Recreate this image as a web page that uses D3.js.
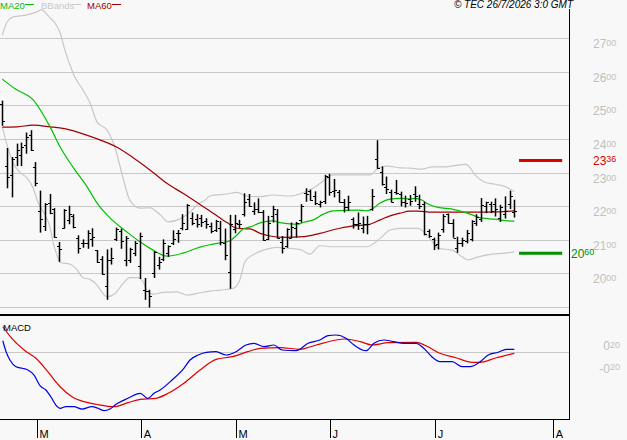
<!DOCTYPE html>
<html>
<head>
<meta charset="utf-8">
<script src="https://cdn.jsdelivr.net/npm/d3@7/dist/d3.min.js"></script>
<style>
  html, body { margin: 0; padding: 0; background: #f8f8f8; }
  svg { display: block; font-family: "Liberation Sans", Arial, sans-serif; }
</style>
</head>
<body>
<svg id="chart" width="627" height="440"></svg>
<script>
// daily bars (bar index 0..108)
const opens = [25.05,23.20,22.93,23.46,23.51,23.81,24.11,23.16,21.86,21.41,22.09,21.91,20.81,21.36,21.59,21.71,21.06,20.91,20.89,21.01,20.69,20.43,
  19.61,20.41,21.01,21.26,20.39,20.41,20.61,20.23,19.51,19.46,20.01,20.26,20.43,20.61,20.91,21.21,21.36,21.33,21.66,21.61,21.66,
  21.56,21.41,21.28,21.34,20.91,20.03,21.31,21.46,21.76,22.21,21.84,21.91,21.81,21.01,21.71,21.76,20.93,20.81,21.06,21.36,21.59,
  22.39,22.44,22.31,22.06,22.16,22.86,22.46,22.41,22.11,21.96,21.61,21.46,21.36,21.46,21.91,23.39,23.01,22.56,22.41,22.41,22.36,22.13,
  22.21,22.36,22.06,22.06,21.26,21.01,20.86,21.31,21.76,21.51,20.76,20.91,20.96,21.01,21.51,21.61,22.01,22.06,22.06,21.66,21.76,22.06,21.81];
const highs = [25.14,23.73,23.46,23.86,23.89,24.19,24.26,23.31,22.46,22.09,22.36,21.94,20.93,21.91,22.01,21.76,21.13,21.01,21.28,21.34,20.69,20.51,
  20.71,20.76,21.36,21.33,21.11,20.76,20.96,21.21,19.86,19.51,20.66,20.49,21.01,20.83,21.28,21.29,21.76,22.06,21.81,21.76,21.74,
  21.64,21.51,21.59,21.56,21.33,21.74,21.74,21.59,22.38,22.36,22.11,22.23,21.88,21.71,22.01,21.91,21.11,21.34,21.51,21.53,22.06,
  22.53,22.49,22.44,22.16,22.93,22.96,22.81,22.48,22.21,22.31,21.66,21.81,21.69,21.71,22.51,23.96,23.18,22.88,22.49,22.78,22.43,22.31,
  22.33,22.59,22.34,22.13,21.31,21.06,21.21,21.76,21.78,21.61,21.09,21.06,21.29,21.58,21.76,22.24,22.13,22.13,22.23,22.04,22.29,22.46,22.19];
const lows = [24.39,22.53,22.26,23.19,23.19,23.56,23.64,22.59,21.21,21.26,21.76,21.06,20.34,21.33,21.46,21.34,20.59,20.76,20.73,20.79,20.31,19.96,
  19.21,20.26,20.96,20.73,20.21,20.31,20.51,19.83,19.21,18.98,19.86,20.11,20.36,20.49,20.84,20.91,21.28,21.29,21.43,21.36,21.38,
  21.33,21.19,21.23,20.83,20.39,19.54,21.19,21.35,21.69,21.98,21.74,21.79,20.97,20.99,21.51,21.04,20.59,20.76,21.04,21.06,21.51,
  22.13,22.16,22.03,21.96,22.06,22.31,22.26,22.11,21.81,21.86,21.33,21.29,21.19,21.16,21.86,23.11,22.61,22.36,22.11,22.34,21.99,21.96,
  22.01,22.13,21.91,21.13,21.06,20.69,20.71,21.21,21.48,21.06,20.61,20.79,20.89,20.95,21.41,21.53,21.79,21.79,21.69,21.53,21.63,21.91,21.66];
const closes = [24.54,22.86,23.41,23.66,23.76,24.06,23.66,22.69,21.61,22.05,21.78,21.08,20.71,21.89,21.76,21.39,20.76,20.89,21.21,21.08,20.33,19.99,
  20.41,20.46,21.31,20.96,21.06,20.71,20.91,21.11,19.48,19.31,20.63,20.33,20.91,20.81,21.01,21.19,21.51,22.03,21.51,21.48,21.53,
  21.46,21.26,21.56,20.94,20.53,21.46,21.49,21.48,22.13,22.01,21.91,21.81,20.99,21.51,21.91,21.06,20.76,21.31,21.39,21.49,22.01,
  22.36,22.19,22.09,22.11,22.89,22.41,22.49,22.13,21.96,22.11,21.48,21.51,21.46,21.48,22.31,23.13,22.66,22.51,22.13,22.39,22.11,22.09,
  22.16,22.31,22.01,21.16,21.11,20.83,21.13,21.71,21.51,21.06,20.91,20.99,21.21,21.56,21.69,22.03,22.11,21.86,21.91,21.96,21.86,22.29,21.86];

// indicator lines: [bar position, value]
const ma20 = [[0,25.78],[2.7,25.49],[6.5,25.16],[10.1,24.35],[12.2,23.76],[14.9,23.16],[17.9,22.57],[20,22.09],[22.7,21.65],[26.3,21.23],
  [29.1,20.93],[31.8,20.69],[34.7,20.51],[38.1,20.6],[41.7,20.78],[44.5,20.87],[48,20.97],[49.5,21.14],[50.8,21.32],[52.3,21.38],[54.4,21.5],
  [57.1,21.56],[58.6,21.51],[60.7,21.47],[62.2,21.46],[63.6,21.52],[65.6,21.59],[67.7,21.76],[69.8,21.86],[74.8,21.88],[76.9,21.86],[78,21.91],
  [79.7,22.09],[81.8,22.21],[83.9,22.23],[86,22.21],[87.1,22.23],[88.5,22.18],[89.8,22.06],[91.9,21.96],[94.9,21.91],[97.2,21.83],[99.1,21.74],
  [101.2,21.64],[103.9,21.61],[106.1,21.57],[108,21.55]];
const ma60 = [[0,24.35],[3.1,24.36],[6.5,24.41],[10.1,24.36],[13.6,24.29],[17,24.15],[20.6,23.97],[24.2,23.75],[27.6,23.44],[31.2,23.07],
  [34.7,22.68],[38.1,22.38],[41.7,22.05],[44.5,21.79],[47.4,21.51],[49.5,21.34],[52.3,21.32],[54.4,21.19],[56.5,21.11],[59.2,21.07],[63.6,21.09],
  [67,21.19],[71.2,21.34],[74,21.41],[76.9,21.44],[79.7,21.59],[81.8,21.71],[83.9,21.79],[86,21.85],[87.7,21.85],[90.7,21.82],[99.1,21.82],
  [104.6,21.83],[108,21.86]];
const bbUpper = [[0,27.09],[1,27.48],[2.3,27.63],[5.2,27.69],[7.3,27.78],[8.2,27.84],[10.1,27.6],[11.1,27.45],[12.2,27.15],[13.2,26.65],
  [13.9,26.35],[15.3,25.84],[17,25.46],[18.5,25.07],[20,24.5],[22.1,24.26],[23.8,23.73],[25.3,22.93],[26.9,22.18],[29.1,21.94],[31.2,21.95],
  [33.3,21.74],[35,21.53],[37.5,21.62],[39.6,21.83],[41.7,22.1],[42.6,22.16],[43.8,22.3],[47.4,22.36],[49.5,22.41],[51.6,22.3],[54.4,22.28],
  [57.1,22.33],[60.7,22.3],[62.8,22.36],[63.6,22.4],[64.3,22.46],[65.6,22.53],[67.7,22.75],[69.8,22.93],[73.4,22.93],[77.6,22.93],[79.3,23.13],
  [81.2,23.19],[83.9,23.14],[86,23.13],[88.5,23.1],[90.7,23.17],[93.4,23.17],[96.1,23.22],[97.6,23.24],[98.3,23.2],[99.7,22.93],[101.8,22.71],
  [103.9,22.65],[106.1,22.58],[108,22.43]];
const bbLower = [[0,24.36],[1,23.82],[2.3,23.28],[3.7,23.01],[5.2,22.84],[6.5,22.54],[7.5,22.12],[9,21.74],[10.1,21.35],[10.7,20.93],
  [11.5,20.55],[12.2,20.32],[14.3,20.27],[15.8,20.1],[17,19.87],[18.5,19.82],[20,19.65],[21.2,19.4],[22.1,19.3],[23.8,19.4],[25.5,19.7],
  [26.9,19.87],[28.6,19.87],[29.7,19.75],[30.7,19.45],[31.8,19.38],[33.9,19.43],[36.9,19.45],[39,19.35],[41.1,19.4],[43.8,19.47],[45.9,19.5],
  [48.7,19.55],[50.1,19.8],[51.2,20.35],[52.9,20.55],[55.8,20.72],[57.9,20.77],[60.1,20.75],[63,20.7],[64.9,20.57],[67,20.82],[69.8,20.79],
  [73.4,20.79],[76.9,20.79],[79.7,21.04],[81.8,21.29],[83.9,21.34],[87.7,21.34],[89.2,21.19],[90.7,20.94],[91.9,20.74],[94.9,20.69],
  [97,20.49],[98.3,20.4],[100.4,20.49],[103.3,20.57],[106.1,20.6],[108,20.64]];
const macd = [[0.1,0.205],[0.8,0.011],[1.6,-0.136],[2.9,-0.255],[4.2,-0.283],[5.4,-0.313],[6.7,-0.402],[8,-0.596],[9.2,-0.667],[10.3,-0.796],
  [11.3,-0.933],[12.2,-0.991],[13.4,-0.963],[15.1,-0.963],[16.8,-1.004],[18.9,-0.963],[20.2,-0.991],[21.5,-1.034],[22.7,-1.004],[24,-0.92],
  [26.5,-0.814],[29.1,-0.726],[30.7,-0.814],[32,-0.726],[33.3,-0.667],[35.8,-0.49],[38.3,-0.283],[39.6,-0.136],[41.3,-0.048],[43,0],
  [45.1,0.011],[47.2,-0.048],[49.3,0.011],[51.4,0.129],[53.1,0.159],[55.2,0.099],[57.3,0.129],[59,0.041],[62,0.028],[64.5,0.159],[67,0.218],
  [68.7,0.294],[70.4,0.306],[72.5,0.248],[74.2,0.129],[76.7,0.028],[78.4,0.159],[80.5,0.218],[82.6,0.188],[84.7,0.159],[87.3,0.159],
  [88.9,0.071],[90.6,-0.078],[92.3,-0.166],[94.9,-0.166],[97,-0.255],[98.7,-0.255],[100.8,-0.166],[102.5,-0.048],[104.6,0],[106.3,0.053],[108,0.053]];
const signal = [[0.1,0.453],[2,0.248],[4.6,0.041],[7.1,-0.106],[9.6,-0.343],[12.2,-0.609],[14.7,-0.786],[17.2,-0.874],[19.8,-0.92],[23.6,-0.963],
  [26.5,-0.892],[29.1,-0.832],[32.4,-0.814],[35,-0.726],[38.3,-0.549],[41.7,-0.313],[45.1,-0.124],[48.5,-0.078],[51.8,0.011],[54.4,0.071],
  [58.6,0.081],[62.8,0.053],[66.2,0.129],[70.4,0.218],[72.1,0.235],[75.5,0.188],[78,0.129],[81.4,0.17],[87.3,0.177],[89.8,0.099],[92.3,-0.018],
  [95.7,-0.096],[99.1,-0.177],[100.8,-0.177],[104.2,-0.096],[108,-0.018]];

const priceTicks = [19, 20, 21, 22, 23, 24, 25, 26, 27];
const macdTicks = [0.2, -0.2];
const monthLabels = ["M", "A", "M", "J", "J", "A"];
const monthPos = [7.3, 29.3, 49.3, 69.1, 91.3, 116.2];
const levelValues = [23.36, 20.60];
const levelSpan = [109, 118.1];

const svg = d3.select("#chart");
const W = 569;
const x = d3.scaleLinear().domain([0, 108]).range([2.3, 514.3]);
const y = d3.scaleLinear().domain([19, 27]).range([306.9, 38.1]);
const ym = d3.scaleLinear().domain([-0.2, 0.2]).range([363.6, 341.0]);

function splitNum(v) {
  return v.toFixed(2).split(".");
}

// grid
svg.append("g").selectAll("line").data(priceTicks).join("line")
  .attr("x1", 0).attr("x2", W)
  .attr("y1", (d) => Math.round(y(d)) + 0.5).attr("y2", (d) => Math.round(y(d)) + 0.5)
  .attr("stroke", "#c8c8c8");
svg.append("line").attr("x1", 0).attr("x2", W)
  .attr("y1", Math.round(ym(0)) + 0.5).attr("y2", Math.round(ym(0)) + 0.5).attr("stroke", "#c8c8c8");

// price labels with small decimals
const pl = svg.append("g").attr("font-size", 12).attr("fill", "#c0c0c0");
priceTicks.filter((d) => d >= 20).forEach((d) => {
  const [a, b] = splitNum(d);
  const t = pl.append("text").attr("x", 593).attr("y", Math.round(y(d)) + 10);
  t.append("tspan").text(a);
  t.append("tspan").attr("font-size", 9).attr("dy", -2.5).text(b);
});
macdTicks.forEach((d) => {
  const [a, b] = splitNum(d);
  const t = pl.append("text").attr("x", 620).attr("text-anchor", "end").attr("y", ym(d) + 9);
  t.append("tspan").text(a);
  t.append("tspan").attr("font-size", 9).attr("dy", -2.5).text(b);
});

// indicator lines
const line = d3.line().x((d) => x(d[0])).y((d) => y(d[1])).curve(d3.curveMonotoneX);
[[bbUpper, "#c8c8c8"], [bbLower, "#c8c8c8"], [ma60, "#a00000"], [ma20, "#00c000"]].forEach(([pts, color]) => {
  svg.append("path").attr("d", line(pts)).attr("fill", "none").attr("stroke", color).attr("stroke-width", 1.2);
});

// OHLC bars
const bars = svg.append("g").attr("stroke", "#000");
d3.range(opens.length).forEach((i) => {
  const cx = Math.round(x(i)) + 0.5;
  bars.append("line").attr("x1", cx).attr("x2", cx).attr("y1", y(highs[i])).attr("y2", y(lows[i])).attr("stroke-width", 1.5);
  bars.append("line").attr("x1", cx - 2.5).attr("x2", cx).attr("y1", Math.round(y(opens[i])) + 0.5).attr("y2", Math.round(y(opens[i])) + 0.5);
  bars.append("line").attr("x1", cx).attr("x2", cx + 2.5).attr("y1", Math.round(y(closes[i])) + 0.5).attr("y2", Math.round(y(closes[i])) + 0.5);
});

// support / resistance levels
const levelColors = ["#d80000", "#009000"];
levelValues.forEach((v, i) => {
  svg.append("line").attr("x1", x(levelSpan[0])).attr("x2", x(levelSpan[1]))
    .attr("y1", y(v)).attr("y2", y(v)).attr("stroke", levelColors[i]).attr("stroke-width", 3);
  const [a, b] = splitNum(v);
  const t = svg.append("text").attr("x", i === 0 ? 593 : 571).attr("y", y(v) + 4.5)
    .attr("font-size", 12).attr("fill", levelColors[i]);
  t.append("tspan").text(a);
  t.append("tspan").attr("font-size", 9).attr("dy", -2.5).text(b);
});

// MACD
const mline = d3.line().x((d) => x(d[0])).y((d) => ym(d[1])).curve(d3.curveMonotoneX);
svg.append("path").attr("d", mline(signal)).attr("fill", "none").attr("stroke", "#e00000").attr("stroke-width", 1.2);
svg.append("path").attr("d", mline(macd)).attr("fill", "none").attr("stroke", "#0000e0").attr("stroke-width", 1.2);
svg.append("text").attr("x", 3).attr("y", 331).attr("font-size", 9.5).text("MACD");

// frame
svg.append("rect").attr("x", 0).attr("y", 314).attr("width", W).attr("height", 2).attr("fill", "#000");
svg.append("rect").attr("x", 0).attr("y", 419).attr("width", W + 1).attr("height", 1).attr("fill", "#000");
svg.append("rect").attr("x", W).attr("y", 9).attr("width", 1).attr("height", 411).attr("fill", "#000");

// month axis
const axis = svg.append("g").attr("transform", "translate(0,419)")
  .call(d3.axisBottom(x).tickValues(monthPos).tickFormat((d, i) => monthLabels[i]).tickSize(19).tickSizeOuter(0));
axis.select(".domain").remove();
axis.selectAll(".tick line").attr("stroke", "#000").attr("shape-rendering", "crispEdges");
axis.selectAll(".tick text").attr("text-anchor", "start").attr("x", 2).attr("y", 11).attr("dy", "0.71em")
  .attr("font-size", 11).attr("font-family", "Liberation Sans, Arial, sans-serif").attr("fill", "#000");

// legend and stamp
const lg = svg.append("g").attr("font-size", 9.5);
[["MA20", "#00c000", 0, 25], ["BBands", "#c8c8c8", 41, 72], ["MA60", "#a00000", 87, 112]].forEach(([name, color, tx, lx]) => {
  lg.append("text").attr("x", tx).attr("y", 8.5).attr("fill", color).text(name);
  lg.append("line").attr("x1", lx).attr("x2", lx + 9).attr("y1", 4.5).attr("y2", 4.5).attr("stroke", color);
});
svg.append("text").attr("x", 573).attr("y", 8).attr("text-anchor", "end").attr("font-size", 10)
  .attr("font-style", "italic").text("© TEC 26/7/2026 3:0 GMT");
</script>
</body>
</html>
